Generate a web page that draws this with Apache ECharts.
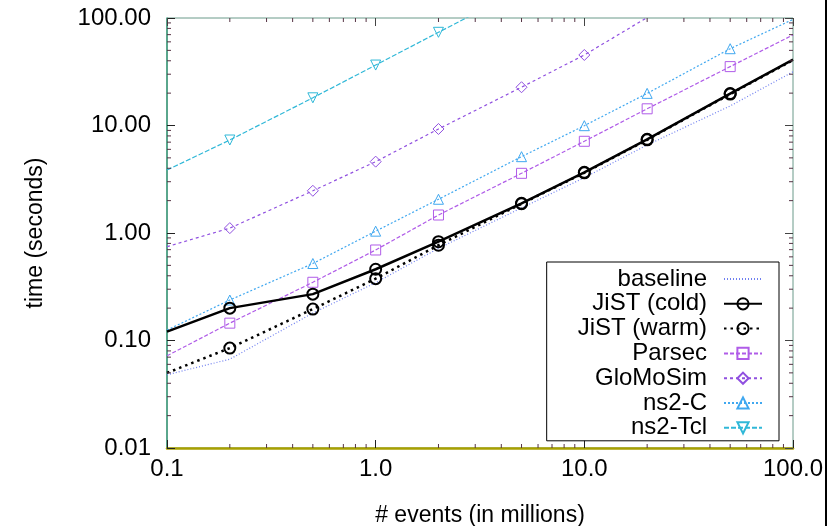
<!DOCTYPE html>
<html>
<head>
<meta charset="utf-8">
<script src="https://cdn.jsdelivr.net/npm/echarts@6/dist/echarts.min.js"></script>
<style>
  html, body { margin: 0; padding: 0; background: #fff; }
  #main { width: 828px; height: 526px; }
</style>
</head>
<body>
<div id="main"></div>
<script>
// 事件数 (百万)
var xValues = [0.1, 0.2, 0.5, 1, 2, 5, 10, 20, 50, 100];
// 各模拟器耗时 (秒)
var baseline = [0.048, 0.067, 0.18, 0.345, 0.72, 1.71, 3.27, 6.59, 15.2, 31.6];
var jistCold = [0.121, 0.20, 0.27, 0.46, 0.83, 1.89, 3.67, 7.44, 19.8, 41];
var jistWarm = [0.05, 0.085, 0.196, 0.376, 0.77, 1.87, 3.63, 7.36, 19.6, 40.5];
var parsec = [0.072, 0.145, 0.348, 0.695, 1.47, 3.59, 7.13, 14.3, 35.3, 69.5];
var gloMoSim = [0.746, 1.11, 2.47, 4.61, 9.28, 22.7, 45.3, 101, null, null];
var ns2C = [0.125, 0.238, 0.52, 1.04, 2.06, 5.13, 9.96, 19.9, 51.8, 97];
var ns2Tcl = [3.85, 7.33, 18.1, 36.5, 73.6, 185, null, null, null, null];

var seriesNames = ["baseline", "JiST (cold)", "JiST (warm)", "Parsec", "GloMoSim", "ns2-C", "ns2-Tcl"];

// 刻度标签
var xTickLabels = ["0.1", "1.0", "10.0", "100.0"];
var yTickLabels = ["0.01", "0.10", "1.00", "10.00", "100.00"];
var xMinorTicks = [0.2, 0.3, 0.4, 0.5, 0.6, 0.7, 0.8, 0.9, 2, 3, 4, 5, 6, 7, 8, 9, 20, 30, 40, 50, 60, 70, 80, 90];
var yMinorTicks = [0.02, 0.03, 0.04, 0.05, 0.06, 0.07, 0.08, 0.09, 0.2, 0.3, 0.4, 0.5, 0.6, 0.7, 0.8, 0.9,
  2, 3, 4, 5, 6, 7, 8, 9, 20, 30, 40, 50, 60, 70, 80, 90];

var FONT = "Liberation Sans, Arial, sans-serif";

// 两端的点不画符号 (gnuplot 会裁掉边框上的点)
function buildData(vals) {
  var out = [];
  for (var i = 0; i < xValues.length; i++) {
    if (vals[i] == null) continue;
    var item = { value: [xValues[i], vals[i]] };
    if (i == 0 || i == xValues.length - 1) item.symbol = "none";
    out.push(item);
  }
  return out;
}

function lineSeries(name, vals, color, type, width, symbol, symbolSize, rotate, z) {
  return {
    name: name,
    type: "line",
    data: buildData(vals),
    symbol: symbol,
    symbolSize: symbolSize,
    symbolRotate: rotate || 0,
    showAllSymbol: true,
    clip: true,
    z: z || 2,
    lineStyle: { color: color, width: width, type: type },
    itemStyle: { color: "rgba(0,0,0,0)", borderColor: color, borderWidth: width > 2 ? 2 : 1 },
    emphasis: { disabled: true }
  };
}

function minorTickSeries(values, dir) {
  return {
    type: "custom",
    silent: true,
    clip: false,
    z: 5,
    data: values.map(function (v) { return [v]; }),
    encode: dir == "x" ? { x: 0 } : { y: 0 },
    renderItem: function (params, api) {
      var v = api.value(0);
      var len = 4;
      if (dir == "x") {
        var b = api.coord([v, 0.01]);
        var t = api.coord([v, 100]);
        return { type: "group", children: [
          { type: "line", shape: { x1: b[0], y1: b[1], x2: b[0], y2: b[1] - len }, style: { stroke: "#553344", lineWidth: 1 } },
          { type: "line", shape: { x1: t[0], y1: t[1], x2: t[0], y2: t[1] + len }, style: { stroke: "#553344", lineWidth: 1 } }
        ] };
      }
      var l = api.coord([0.1, v]);
      var r = api.coord([100, v]);
      return { type: "group", children: [
        { type: "line", shape: { x1: l[0], y1: l[1], x2: l[0] + len, y2: l[1] }, style: { stroke: "#553344", lineWidth: 1 } },
        { type: "line", shape: { x1: r[0], y1: r[1], x2: r[0] - len, y2: r[1] }, style: { stroke: "#553344", lineWidth: 1 } }
      ] };
    }
  };
}

// baseline 图例只画线, 不画符号
var legendData = seriesNames.map(function (n) {
  if (n == "baseline") return { name: n, itemStyle: { borderWidth: 0, borderColor: "rgba(0,0,0,0)", color: "rgba(0,0,0,0)" } };
  return { name: n };
});

var chart = echarts.init(document.getElementById("main"), null, { renderer: "canvas" });

var option = {
  backgroundColor: "#fff",
  animation: false,
  textStyle: { fontFamily: FONT },
  grid: {
    left: 167, right: 35, top: 18, bottom: 78,
    outerBoundsMode: "none",
    containLabel: false,
    show: true, borderColor: "#6a9a8a", borderWidth: 1
  },
  legend: {
    data: legendData,
    orient: "vertical",
    align: "right",
    right: 49,
    top: 262,
    backgroundColor: "#fff",
    borderColor: "#000",
    borderWidth: 1,
    padding: [5, 16, 1, 31],
    itemGap: 0.8,
    itemWidth: 38,
    itemHeight: 14,
    textStyle: { fontFamily: FONT, fontSize: 24, color: "#000", lineHeight: 24, padding: [0, 12, 0, 0] }
  },
  xAxis: [{
    type: "log",
    logBase: 10,
    min: 0.1,
    max: 100,
    name: "# events (in millions)",
    nameLocation: "middle",
    nameGap: 56,
    nameTextStyle: { fontFamily: FONT, fontSize: 23, color: "#000" },
    axisLine: { show: true, lineStyle: { color: "#a8a000", width: 2.5 } },
    axisTick: { show: true, inside: true, length: 8, lineStyle: { color: "#222" } },
    axisLabel: {
      fontFamily: FONT, fontSize: 24, color: "#000", margin: 9,
      formatter: function (v, i) { return xTickLabels[i]; }
    },
    splitLine: { show: false }
  }, {
    type: "log",
    logBase: 10,
    min: 0.1,
    max: 100,
    position: "top",
    axisLine: { show: false },
    axisTick: { show: true, inside: true, length: 8, lineStyle: { color: "#444" } },
    axisLabel: { show: false },
    splitLine: { show: false }
  }],
  yAxis: [{
    type: "log",
    logBase: 10,
    min: 0.01,
    max: 100,
    name: "time (seconds)",
    nameLocation: "middle",
    nameRotate: 90,
    nameGap: 120,
    nameTextStyle: { fontFamily: FONT, fontSize: 23, color: "#000" },
    axisLine: { show: true, lineStyle: { color: "#3c9a7a", width: 1.5 } },
    axisTick: { show: true, inside: true, length: 8, lineStyle: { color: "#222" } },
    axisLabel: {
      fontFamily: FONT, fontSize: 24, color: "#000", margin: 16,
      formatter: function (v, i) { return yTickLabels[i]; }
    },
    splitLine: { show: false }
  }, {
    type: "log",
    logBase: 10,
    min: 0.01,
    max: 100,
    position: "right",
    axisLine: { show: false },
    axisTick: { show: true, inside: true, length: 8, lineStyle: { color: "#444" } },
    axisLabel: { show: false },
    splitLine: { show: false }
  }],
  series: [
    lineSeries("baseline", baseline, "#6f7ff0", [1, 2], 1.2, "none", 0),
    lineSeries("JiST (cold)", jistCold, "#000", "solid", 2.5, "circle", 11, 0, 4),
    lineSeries("JiST (warm)", jistWarm, "#000", [2.5, 4], 2.5, "circle", 11, 0, 3),
    lineSeries("Parsec", parsec, "#b05ce8", [4, 2], 1.2, "rect", 10),
    lineSeries("GloMoSim", gloMoSim, "#9050e0", [3, 3], 1.2, "diamond", 11),
    lineSeries("ns2-C", ns2C, "#40a8f0", [2, 2], 1.2, "triangle", 10),
    lineSeries("ns2-Tcl", ns2Tcl, "#30b8d8", [5, 2], 1.2, "triangle", 10, 180),
    minorTickSeries(xMinorTicks, "x"),
    minorTickSeries(yMinorTicks, "y")
  ],
  graphic: [{
    type: "rect",
    right: 1,
    top: 0,
    shape: { width: 2, height: 526 },
    style: { fill: "#000" },
    silent: true
  }]
};

chart.setOption(option);
</script>
</body>
</html>
